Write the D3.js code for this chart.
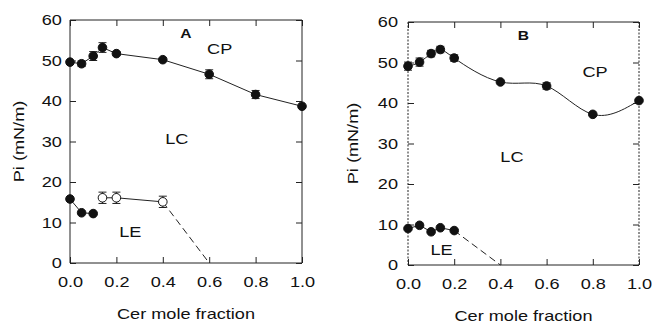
<!DOCTYPE html>
<html>
<head>
<meta charset="utf-8">
<script src="https://cdn.jsdelivr.net/npm/d3@7"></script>
<style>
  body { margin: 0; background: #fff; }
  svg { display: block; }
  text { font-family: "Liberation Sans", Arial, sans-serif; fill: #111; }
</style>
</head>
<body>
<svg id="chart" width="652" height="323"></svg>
<script>
// panel A, upper boundary (filled circles)
const aUpperX = [0, 0.05, 0.1, 0.14, 0.2, 0.4, 0.6, 0.8, 1.0];
const aUpperY = [49.6, 49.2, 51.1, 53.2, 51.7, 50.2, 46.6, 41.6, 38.7];
const aUpperErr = [0, 0.7, 1.1, 1.2, 0.5, 0, 1.1, 1.0, 0];
// panel A, lower boundary (filled then open circles)
const aLowX = [0, 0.05, 0.1];
const aLowY = [15.8, 12.4, 12.2];
const aOpenX = [0.14, 0.2, 0.4];
const aOpenY = [16.1, 16.1, 15.1];
const aOpenErr = [1.4, 1.4, 1.4];
const aDashX = [0.4, 0.6];
const aDashY = [15.1, 0];
// panel B
const bUpperX = [0, 0.05, 0.1, 0.14, 0.2, 0.4, 0.6, 0.8, 1.0];
const bUpperY = [49.1, 50.1, 52.2, 53.2, 51.1, 45.2, 44.2, 37.2, 40.6];
const bUpperErr = [1.0, 1.0, 0.8, 0.8, 0.8, 0, 0.8, 0, 0];
const bLowX = [0, 0.05, 0.1, 0.14, 0.2];
const bLowY = [9.0, 9.8, 8.2, 9.2, 8.5];
const bDashX = [0.2, 0.4];
const bDashY = [8.5, 0];

const xTicks = [0, 0.2, 0.4, 0.6, 0.8, 1.0];
const yTicks = [0, 10, 20, 30, 40, 50, 60];

const svg = d3.select('#chart');
const SX = 1.25; // reference font is drawn wide

function panel(opt) {
    const x = d3.scaleLinear().domain([0, 1]).range([opt.left, opt.right]);
    const y = d3.scaleLinear().domain([0, 60]).range([opt.bottom, opt.top]);
    const g = svg.append('g');

    // ticks, all pointing inward
    const bottom = g.append('g').attr('transform', `translate(0,${opt.bottom})`)
        .call(d3.axisBottom(x).tickValues(xTicks).tickFormat(d3.format('.1f'))
            .tickSize(-6).tickSizeOuter(0).tickPadding(14));
    const top = g.append('g').attr('transform', `translate(0,${opt.top})`)
        .call(d3.axisTop(x).tickValues(xTicks).tickFormat('').tickSize(-6).tickSizeOuter(0));
    const left = g.append('g').attr('transform', `translate(${opt.left},0)`)
        .call(d3.axisLeft(y).tickValues(yTicks).tickSize(-6).tickSizeOuter(0).tickPadding(opt.yPad));
    const right = g.append('g').attr('transform', `translate(${opt.right},0)`)
        .call(d3.axisRight(y).tickValues(yTicks).tickFormat('').tickSize(-6).tickSizeOuter(0));

    [bottom, top, left, right].forEach(a => {
        a.select('.domain').remove();
        a.selectAll('line').attr('stroke', '#222');
    });
    [bottom, left].forEach(a => a.selectAll('text')
        .style('font-size', '14.5px').attr('fill', '#111')
        .attr('transform', `scale(${SX},1)`));

    // frame
    const frame = g.append('g').attr('fill', 'none').attr('stroke', '#222').attr('stroke-width', 1);
    frame.append('line').attr('x1', opt.left).attr('x2', opt.right).attr('y1', opt.top).attr('y2', opt.top);
    frame.append('line').attr('x1', opt.left).attr('x2', opt.right).attr('y1', opt.bottom).attr('y2', opt.bottom);
    frame.append('line').attr('x1', opt.left).attr('x2', opt.left).attr('y1', opt.top).attr('y2', opt.bottom)
        .attr('stroke-dasharray', opt.sideDash || null);
    frame.append('line').attr('x1', opt.right).attr('x2', opt.right).attr('y1', opt.top).attr('y2', opt.bottom)
        .attr('stroke-dasharray', opt.sideDash || null);

    // axis titles
    g.append('text')
        .attr('transform', `translate(${(opt.left + opt.right) / 2},${opt.bottom + 56}) scale(${SX},1)`)
        .attr('text-anchor', 'middle').style('font-size', '14.5px')
        .text('Cer mole fraction');
    g.append('text')
        .attr('transform', `translate(${opt.yTitleX},${(opt.top + opt.bottom) / 2}) rotate(-90) scale(${SX},1)`)
        .attr('text-anchor', 'middle').style('font-size', '14.5px')
        .text('Pi (mN/m)');

    // region labels
    opt.labels.forEach(l => {
        g.append('text')
            .attr('transform', `translate(${x(l.x)},${y(l.y)}) scale(${SX},1)`)
            .attr('text-anchor', 'middle')
            .style('font-size', l.bold ? '12.5px' : '14.5px')
            .style('font-weight', l.bold ? 'bold' : 'normal')
            .text(l.t);
    });
    return { g, x, y };
}

function series(p, xs, ys, o) {
    const pts = xs.map((d, i) => [d, ys[i], o.err ? o.err[i] : 0]);
    if (o.line !== false) {
        const line = d3.line().x(d => p.x(d[0])).y(d => p.y(d[1])).curve(o.curve || d3.curveLinear);
        p.g.append('path').datum(pts)
            .attr('d', line).attr('fill', 'none').attr('stroke', '#222')
            .attr('stroke-width', 1).attr('stroke-dasharray', o.dash || null);
    }
    if (o.marks === false) return;
    const eb = pts.filter(d => d[2] > 0);
    p.g.selectAll(null).data(eb).join('path')
        .attr('d', d => {
            const cx = p.x(d[0]), y1 = p.y(d[1] - d[2]), y2 = p.y(d[1] + d[2]);
            return `M${cx},${y1}V${y2}M${cx - 4},${y1}H${cx + 4}M${cx - 4},${y2}H${cx + 4}`;
        })
        .attr('stroke', '#222').attr('stroke-width', 1).attr('fill', 'none');
    p.g.selectAll(null).data(pts).join('circle')
        .attr('cx', d => p.x(d[0])).attr('cy', d => p.y(d[1]))
        .attr('r', 4.3)
        .attr('fill', o.open ? '#fff' : '#111')
        .attr('stroke', '#111').attr('stroke-width', 1);
}

// panel A
const pA = panel({
    left: 70, right: 302, top: 20, bottom: 263, yPad: 6.5, yTitleX: 23.5,
    labels: [
        { t: 'A', x: 0.5, y: 55.5, bold: true },
        { t: 'CP', x: 0.645, y: 51.5 },
        { t: 'LC', x: 0.46, y: 29.5 },
        { t: 'LE', x: 0.26, y: 6.5 }
    ]
});
series(pA, aUpperX, aUpperY, { err: aUpperErr });
series(pA, aLowX, aLowY, {});
series(pA, aDashX, aDashY, { dash: '7,4', marks: false });
series(pA, aOpenX, aOpenY, { err: aOpenErr, open: true });

// panel B
const pB = panel({
    left: 408, right: 639, top: 22, bottom: 265, yPad: 8, yTitleX: 358, sideDash: '2,1.5',
    labels: [
        { t: 'B', x: 0.5, y: 55.5, bold: true },
        { t: 'CP', x: 0.81, y: 46.5 },
        { t: 'LC', x: 0.45, y: 25.5 },
        { t: 'LE', x: 0.145, y: 2.5 }
    ]
});
series(pB, bUpperX, bUpperY, { err: bUpperErr, curve: d3.curveNatural });
series(pB, bDashX, bDashY, { dash: '7,4', marks: false });
series(pB, bLowX, bLowY, {});
</script>
</body>
</html>
